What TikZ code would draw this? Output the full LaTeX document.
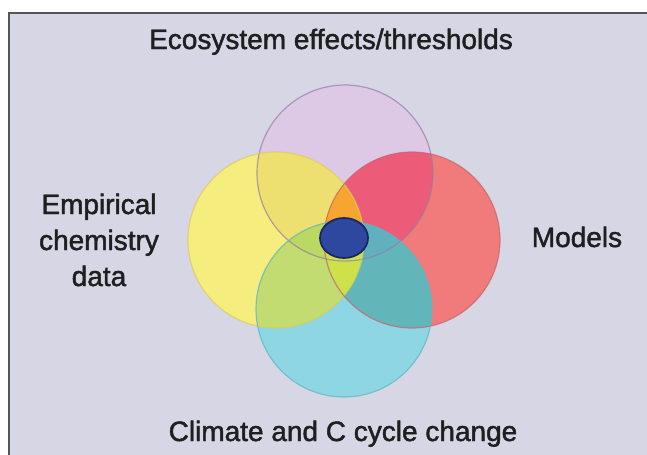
\documentclass[tikz,border=0pt]{standalone}
\usepackage{fontspec}
\setmainfont{Liberation Sans}
\newfontfamily\labelfont{Liberation Sans}[FakeBold=1.6]

\definecolor{panelBg}{RGB}{214,214,229}
\definecolor{panelEdge}{RGB}{85,85,85}
% single circles
\definecolor{ecoFill}{RGB}{221,201,230}
\definecolor{empFill}{RGB}{245,237,125}
\definecolor{modFill}{RGB}{241,122,122}
\definecolor{cliFill}{RGB}{142,214,227}
% overlaps
\definecolor{ecoEmp}{RGB}{238,224,112}
\definecolor{ecoMod}{RGB}{236,92,120}
\definecolor{ecoCli}{RGB}{150,190,200}
\definecolor{empMod}{RGB}{246,166,48}
\definecolor{empCli}{RGB}{194,220,114}
\definecolor{modCli}{RGB}{98,182,186}
\definecolor{ecoEmpMod}{RGB}{246,166,48}
\definecolor{ecoEmpCli}{RGB}{186,216,98}
\definecolor{ecoModCli}{RGB}{96,176,190}
\definecolor{empModCli}{RGB}{204,226,72}
% rims and core
\definecolor{ecoRim}{RGB}{150,125,165}
\definecolor{empRim}{RGB}{215,205,90}
\definecolor{modRim}{RGB}{200,100,110}
\definecolor{cliRim}{RGB}{95,180,195}
\definecolor{coreFill}{RGB}{46,72,160}
\definecolor{coreEdge}{RGB}{25,38,95}

\tikzset{
  label/.style={inner sep=0pt, text=black!88, font=\labelfont\fontsize{21}{27}\selectfont},
  rim/.style={line width=0.9pt, draw opacity=0.7}
}
\def\rr{88}

\begin{document}
\begin{tikzpicture}[x=0.75pt,y=0.75pt,yscale=-1,xscale=1]
\useasboundingbox (0,0) rectangle (647,454);
\clip (0,0) rectangle (647,454);

%Shape: Panel
\fill[white] (0,0) rectangle (647,454);
\draw[panelEdge, fill=panelBg, line width=1.1pt] (9,13) rectangle (700,500);

% circle centres
\coordinate (eco) at (345,173);
\coordinate (emp) at (276,240);
\coordinate (mod) at (412,240);
\coordinate (cli) at (344,309);

%Shape: Circles
\fill[ecoFill] (eco) circle (\rr);
\fill[empFill] (emp) circle (\rr);
\fill[modFill] (mod) circle (\rr);
\fill[cliFill] (cli) circle (\rr);

% two-way overlaps
\begin{scope}
  \clip (eco) circle (\rr);
  \fill[ecoEmp] (emp) circle (\rr);
  \fill[ecoMod] (mod) circle (\rr);
  \fill[ecoCli] (cli) circle (\rr);
\end{scope}
\begin{scope}
  \clip (emp) circle (\rr);
  \fill[empMod] (mod) circle (\rr);
  \fill[empCli] (cli) circle (\rr);
\end{scope}
\begin{scope}
  \clip (mod) circle (\rr);
  \fill[modCli] (cli) circle (\rr);
\end{scope}

% three-way overlaps
\begin{scope}
  \clip (eco) circle (\rr);
  \clip (emp) circle (\rr);
  \fill[ecoEmpMod] (mod) circle (\rr);
  \fill[ecoEmpCli] (cli) circle (\rr);
\end{scope}
\begin{scope}
  \clip (eco) circle (\rr);
  \clip (mod) circle (\rr);
  \fill[ecoModCli] (cli) circle (\rr);
\end{scope}
\begin{scope}
  \clip (emp) circle (\rr);
  \clip (mod) circle (\rr);
  \fill[empModCli] (cli) circle (\rr);
\end{scope}

% rims
\draw[rim, ecoRim] (eco) circle (\rr);
\draw[rim, empRim] (emp) circle (\rr);
\draw[rim, modRim] (mod) circle (\rr);
\draw[rim, cliRim] (cli) circle (\rr);

%Shape: Ellipse
\draw[coreEdge, fill=coreFill, line width=1.3pt] (344,238) ellipse (24 and 20);

% Text Node
\node[label, anchor=base] (ecoLabel) at (331,49) {Ecosystem effects/thresholds};
% Text Node
\node[label, anchor=base] (modLabel) at (577,247) {Models};
% Text Node
\node[label, align=center] (empLabel) at (99,240) {Empirical\\chemistry\\data};
% Text Node
\node[label, anchor=base] (cliLabel) at (343,441) {Climate and C cycle change};

\end{tikzpicture}
\end{document}
